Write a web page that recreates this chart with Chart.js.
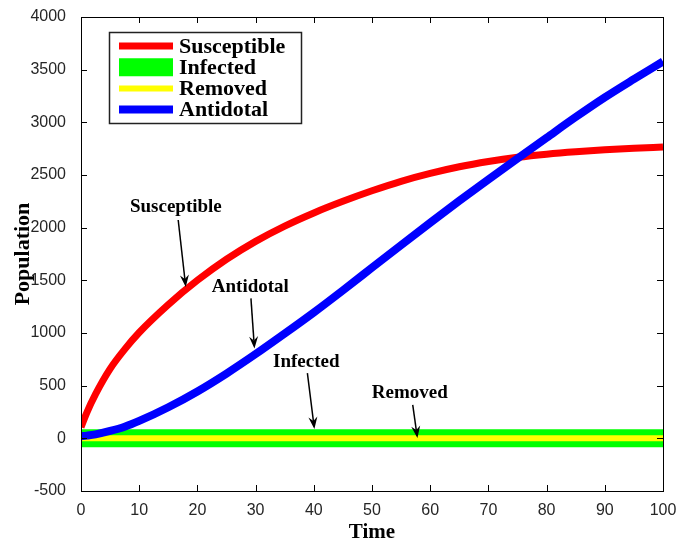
<!DOCTYPE html>
<html>
<head>
<meta charset="utf-8">
<script src="https://cdn.jsdelivr.net/npm/chart.js@4.4.0/dist/chart.umd.min.js"></script>
<style>
  body { margin: 0; background: #fff; }
  #wrap { width: 679px; height: 543px; }
</style>
</head>
<body>
<div id="wrap"><canvas id="sir-chart" width="679" height="543"></canvas></div>
<script>
const time = [0, 1, 2.5, 5, 7.5, 10, 15, 20, 25, 30, 35, 40, 45, 50, 55, 60, 65, 70, 75, 80, 85, 90, 95, 100];
const susceptible = [105, 245, 420, 660, 845, 1005, 1270, 1500, 1700, 1870, 2015, 2140, 2250, 2350, 2440, 2515, 2578, 2628, 2668, 2698, 2721, 2739, 2753, 2765];
const infected = [0, 0, 0, 0, 0, 0, 0, 0, 0, 0, 0, 0, 0, 0, 0, 0, 0, 0, 0, 0, 0, 0, 0, 0];
const removed = [0, 0, 0, 0, 0, 0, 0, 0, 0, 0, 0, 0, 0, 0, 0, 0, 0, 0, 0, 0, 0, 0, 0, 0];
const antidotal = [20, 26, 38, 70, 110, 165, 295, 445, 615, 800, 995, 1195, 1405, 1620, 1835, 2047, 2255, 2458, 2657, 2854, 3050, 3237, 3410, 3578];

const xTicks = [0, 10, 20, 30, 40, 50, 60, 70, 80, 90, 100];
const yTicks = [-500, 0, 500, 1000, 1500, 2000, 2500, 3000, 3500, 4000];

// text callouts, in data coordinates
const notes = [
  { text: "Susceptible", at: [16.3, 2196], from: [16.7, 2073], to: [18.0, 1437] },
  { text: "Antidotal", at: [29.1, 1436], from: [29.2, 1329], to: [29.8, 854] },
  { text: "Infected", at: [38.7, 724], from: [38.9, 619], to: [40.1, 89] },
  { text: "Removed", at: [56.5, 431], from: [57.0, 317], to: [57.8, 3] },
];

const serif = "'Liberation Serif', 'Times New Roman', serif";

function pts(values) {
  return time.map((t, i) => ({ x: t, y: values[i] }));
}

function arrow(ctx, x0, y0, x1, y1) {
  const ang = Math.atan2(y1 - y0, x1 - x0);
  const len = 12, half = 4.5, back = 8;
  ctx.beginPath();
  ctx.moveTo(x0, y0);
  ctx.lineTo(x1 - Math.cos(ang) * back, y1 - Math.sin(ang) * back);
  ctx.stroke();
  ctx.save();
  ctx.translate(x1, y1);
  ctx.rotate(ang);
  ctx.beginPath();
  ctx.moveTo(0, 0);
  ctx.lineTo(-len, -half);
  ctx.lineTo(-back, 0);
  ctx.lineTo(-len, half);
  ctx.closePath();
  ctx.fill();
  ctx.restore();
}

const framePlugin = {
  id: "frame",
  afterDatasetsDraw(chart) {
    const { ctx, chartArea: a, scales: { x, y } } = chart;
    ctx.save();
    ctx.strokeStyle = "#000";
    ctx.lineWidth = 1;
    ctx.strokeRect(a.left + 0.5, a.top + 0.5, a.right - a.left, a.bottom - a.top);

    // inward ticks on all four sides
    ctx.beginPath();
    x.ticks.forEach(t => {
      const px = Math.round(x.getPixelForValue(t.value)) + 0.5;
      ctx.moveTo(px, a.bottom); ctx.lineTo(px, a.bottom - 6);
      ctx.moveTo(px, a.top); ctx.lineTo(px, a.top + 6);
    });
    y.ticks.forEach(t => {
      const py = Math.round(y.getPixelForValue(t.value)) + 0.5;
      ctx.moveTo(a.left, py); ctx.lineTo(a.left + 6, py);
      ctx.moveTo(a.right, py); ctx.lineTo(a.right - 6, py);
    });
    ctx.stroke();

    // callouts
    ctx.fillStyle = "#000";
    ctx.lineWidth = 1.5;
    ctx.font = "bold 19px " + serif;
    ctx.textAlign = "center";
    ctx.textBaseline = "middle";
    notes.forEach(n => {
      ctx.fillText(n.text, x.getPixelForValue(n.at[0]), y.getPixelForValue(n.at[1]));
      arrow(ctx,
        x.getPixelForValue(n.from[0]), y.getPixelForValue(n.from[1]),
        x.getPixelForValue(n.to[0]), y.getPixelForValue(n.to[1]));
    });

    // legend box
    const lx = 109, ly = 32, lw = 192, lh = 91;
    ctx.fillStyle = "#fff";
    ctx.fillRect(lx, ly, lw, lh);
    ctx.lineWidth = 1.5;
    ctx.strokeStyle = "#222";
    ctx.strokeRect(lx + 0.5, ly + 0.5, lw, lh);
    ctx.font = "bold 22px " + serif;
    ctx.textAlign = "left";
    chart.data.datasets.forEach((ds, row) => {
      const cy = 46 + row * 21.2;
      ctx.strokeStyle = ds.borderColor;
      ctx.lineWidth = ds.borderWidth;
      ctx.beginPath();
      ctx.moveTo(119, cy);
      ctx.lineTo(173, cy);
      ctx.stroke();
      ctx.fillStyle = "#000";
      ctx.fillText(ds.label, 179, cy + 1);
    });
    ctx.restore();
  }
};

const tickFont = { family: "'Liberation Sans', Arial, sans-serif", size: 16 };

new Chart(document.getElementById("sir-chart"), {
  type: "line",
  data: {
    datasets: [
      { label: "Susceptible", data: pts(susceptible), borderColor: "#ff0000", borderWidth: 7, order: 4 },
      { label: "Infected", data: pts(infected), borderColor: "#00ff00", borderWidth: 18, order: 3 },
      { label: "Removed", data: pts(removed), borderColor: "#ffff00", borderWidth: 6, order: 2 },
      { label: "Antidotal", data: pts(antidotal), borderColor: "#0000ff", borderWidth: 8, order: 1 },
    ],
  },
  options: {
    responsive: false,
    animation: false,
    clip: 0,
    layout: { padding: { top: 17, right: 16, left: 0, bottom: 0 } },
    elements: {
      point: { radius: 0 },
      line: { cubicInterpolationMode: "monotone", borderCapStyle: "butt" },
    },
    plugins: { legend: { display: false }, tooltip: { enabled: false } },
    scales: {
      x: {
        type: "linear",
        min: 0,
        max: 100,
        afterBuildTicks: axis => { axis.ticks = xTicks.map(v => ({ value: v })); },
        afterFit: axis => { axis.height = 52; },
        grid: { display: false },
        border: { display: false },
        ticks: { color: "#262626", padding: 2, maxRotation: 0, font: tickFont, callback: v => String(v) },
        title: { display: true, text: "Time", color: "#000", padding: { top: 0, bottom: 0 },
                 font: { family: serif, size: 21, weight: "bold", lineHeight: 1 } },
      },
      y: {
        min: -500,
        max: 4000,
        afterBuildTicks: axis => { axis.ticks = yTicks.map(v => ({ value: v })); },
        afterFit: axis => { axis.width = 81; },
        grid: { display: false },
        border: { display: false },
        ticks: { color: "#262626", padding: 7, font: tickFont, callback: v => String(v) },
        title: { display: true, text: "Population", color: "#000", padding: { top: 12, bottom: 0 },
                 font: { family: serif, size: 22, weight: "bold", lineHeight: 1 } },
      },
    },
  },
  plugins: [framePlugin],
});
</script>
</body>
</html>
